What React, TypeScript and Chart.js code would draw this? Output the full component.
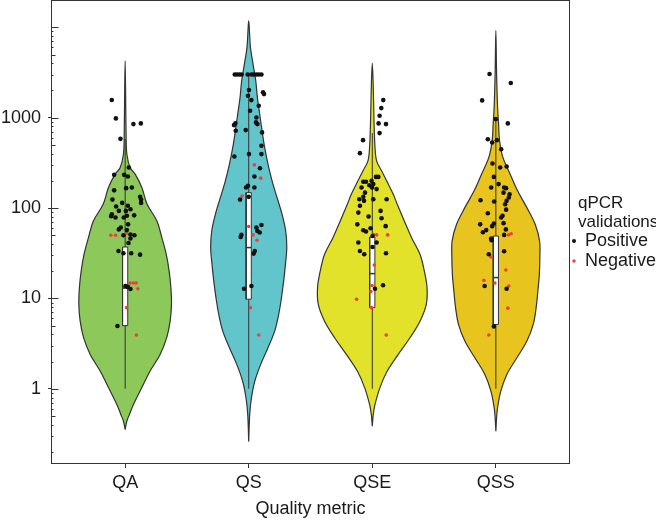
import React, { useEffect, useRef } from 'react';
import { Chart, registerables } from 'chart.js';

Chart.register(...registerables);

const categories = ['QA', 'QS', 'QSE', 'QSS'];
const yTickValues = [1, 10, 100, 1000];
const xTitle = 'Quality metric';
const legendTitleLines = ['qPCR', 'validations'];
const seriesLabels = ['Positive', 'Negative'];
const violinColors = ['#8CC85A', '#62C5CB', '#E2E22B', '#E8C51E'];

// violin outlines: [value, half-width (category units)], from bottom tip to top tip
const qaViolin = [
  [0.354, 0], [0.44, 0.014], [0.52, 0.035], [0.67, 0.067], [1.03, 0.135], [1.57, 0.202], [2.4, 0.283],
  [3.7, 0.337], [5.6, 0.364], [8.6, 0.375], [13.2, 0.37], [20, 0.356], [31, 0.332], [47, 0.297],
  [72, 0.257], [110, 0.178], [169, 0.135], [237, 0.081], [281, 0.04], [394, 0.014], [604, 0.008], [4266, 0],
];
const qsViolin = [
  [0.26, 0], [0.52, 0.008], [0.79, 0.022], [1.21, 0.049], [1.86, 0.097], [2.84, 0.156], [4.35, 0.21],
  [6.7, 0.243], [10.2, 0.265], [15.6, 0.283], [23.8, 0.297], [36.5, 0.308], [56, 0.299], [85, 0.27],
  [131, 0.229], [200, 0.189], [306, 0.156], [468, 0.129], [715, 0.108], [1094, 0.089], [1675, 0.07],
  [2560, 0.057], [3920, 0.035], [6000, 0.014], [11830, 0],
];
const qseViolin = [
  [0.385, 0], [0.52, 0.008], [0.67, 0.022], [1.03, 0.062], [1.57, 0.121], [2.4, 0.21], [3.67, 0.305],
  [5.6, 0.386], [8.6, 0.437], [13.2, 0.443], [20.1, 0.421], [30.8, 0.386], [47, 0.318], [72, 0.259],
  [110, 0.202], [142, 0.17], [200, 0.116], [258, 0.075], [333, 0.035], [468, 0.022], [923, 0.014],
  [2163, 0.008], [3990, 0],
];
const qssViolin = [
  [0.34, 0], [0.48, 0.006], [0.62, 0.014], [0.94, 0.04], [1.44, 0.089], [2.2, 0.17], [3.37, 0.251],
  [5.2, 0.303], [7.9, 0.326], [12.1, 0.34], [18.5, 0.352], [28.3, 0.356], [43, 0.354], [66, 0.318],
  [101, 0.251], [155, 0.176], [237, 0.116], [363, 0.057], [554, 0.03], [848, 0.022], [1298, 0.014],
  [3040, 0.006], [9170, 0],
];

// box plot statistics per category
const boxLow = [1, 1, 1, 1];
const boxQ1 = [5, 9.8, 7.9, 5.15];
const boxMedian = [13, 36.5, 18.8, 17];
const boxQ3 = [37, 148, 47.8, 49];
const boxHigh = [583, 3000, 675, 964];

// jittered observations: [value, horizontal jitter (category units)]
const qaPositive = [
  [1566, -0.108], [981, -0.075], [849, 0.067], [864, 0.127], [583, -0.038], [281, 0.03], [233, -0.089],
  [233, -0.008], [223, 0.022], [169, 0.054], [166, 0.008], [157, -0.089], [133, 0.121], [124, 0.129],
  [124, -0.103], [114, -0.024], [114, 0.129], [106, 0.022], [104, -0.073], [97, 0.043], [93, -0.051],
  [93, 0.006], [85, -0.108], [83, 0.073], [82, 0.014], [81, -0.113], [78.5, -0.078], [78.5, -0.011],
  [66, 0.024], [61, -0.035], [58, -0.051], [57, 0.014], [51, 0.043], [50, -0.014], [50, 0.075], [46, 0.043],
  [41, 0.027], [33.5, -0.054], [31.6, -0.014], [31.6, 0.049], [30.5, 0.121], [13.7, 0.002], [13.4, 0.022],
  [12.7, 0.043], [4.94, -0.062],
];
const qaNegative = [
  [50, -0.116], [50, -0.078], [52.6, 0.011], [14.8, 0.04], [14.8, 0.067], [14.8, 0.089], [12.8, 0.103],
  [7.9, 0.011], [3.93, 0.091],
];
const qsPositive = [
  [3000, -0.113], [3000, -0.095], [3000, -0.075], [3000, -0.057], [3000, -0.008], [3000, 0.022],
  [3000, 0.04], [3000, 0.062], [3000, 0.081], [3000, 0.103], [2020, 0.002], [1905, 0.116], [1824, 0.124],
  [1746, -0.006], [1565, 0.022], [1355, 0.081], [1191, 0.011], [1006, 0.062], [886, 0.059], [864, -0.108],
  [827, -0.119], [849, 0.07], [716, -0.105], [728, -0.024], [687, 0.108], [488, 0.103], [372, -0.116],
  [395, 0.002], [395, 0.103], [276, 0.091], [223, 0.046], [176, -0.006], [169, -0.022], [169, 0.046],
  [133, 0], [124, -0.07], [65, 0.103], [61, 0.062], [55.8, 0.07], [53.5, 0.089], [50.4, -0.059],
  [47.8, -0.065], [33.5, 0.049], [31.3, 0.04], [13.7, 0.022], [12.8, -0.038],
];
const qsNegative = [
  [300, 0.046], [214, 0.097], [136, -0.054], [62.4, 0], [50.4, 0.035], [44, 0.067], [7.9, 0.014], [3.93, 0.081],
];
const qsePositive = [
  [1565, 0.089], [1276, 0.073], [1049, 0.059], [864, 0.051], [849, 0.111], [675, 0.059], [564, -0.075],
  [405, -0.1], [221, 0.049], [221, 0.03], [195, -0.073], [195, -0.051], [200, -0.006], [179, -0.024],
  [184, 0.008], [169, -0.002], [169, -0.087], [162, 0.035], [148, -0.059], [125, -0.105], [125, 0.116],
  [133, -0.073], [125, 0.008], [106, -0.1], [120, -0.067], [89, -0.113], [93, 0.067], [77, 0.075],
  [80.5, -0.03], [66, -0.121], [63, 0.108], [59.7, -0.014], [56.8, -0.073], [55, -0.051], [49, 0.002],
  [41.5, 0.035], [41.5, -0.113], [37, 0.002], [33.5, -0.1], [30.8, -0.065], [31.6, 0.111], [14, 0.087],
  [12.8, 0.022],
];
const qseNegative = [
  [51, 0.008], [50.4, 0.035], [50.4, 0.124], [23.4, 0.016], [13.9, -0.002], [11.9, -0.011], [9.8, -0.127],
  [7.9, -0.006], [3.93, 0.113],
];
const qssPositive = [
  [3040, -0.051], [2415, 0.121], [1553, -0.111], [964, 0], [864, 0.097], [578, -0.065], [532, -0.03],
  [564, 0.008], [448, 0.043], [311, -0.027], [281, 0.035], [288, 0.087], [221, -0.016], [184, 0.022],
  [169, -0.038], [169, 0.067], [166, 0.083], [148, 0.062], [142, 0.111], [131, 0.105], [120, 0.087],
  [122, -0.124], [118, -0.014], [110, 0.075], [96, 0.083], [87.6, -0.065], [82, 0.054], [78.5, 0.043],
  [67.3, -0.016], [66, -0.127], [63, -0.03], [68, 0.062], [57, -0.078], [54, -0.105], [58, 0.081],
  [50.4, 0.067], [46, -0.038], [44, -0.035], [33.2, 0.067], [30.8, -0.057], [13.7, -0.091], [12.8, 0.087],
  [4.9, -0.016],
];
const qssNegative = [
  [50.4, 0.103], [52, 0.124], [28.7, -0.04], [20.6, 0.081], [15.9, -0.097], [14.8, -0.008], [13.7, 0.105],
  [7.8, 0.097], [3.93, -0.057],
];

const FONT = '"Liberation Sans", Arial, Helvetica, sans-serif';
const INK = '#333333';
const TEXT = '#1a1a1a';
const POS_COLOR = '#111111';
const NEG_COLOR = '#F03E3E';
const BOX_HALF = 0.021;

export default function App() {
  const ref = useRef<HTMLCanvasElement | null>(null);

  useEffect(() => {
    const canvas = ref.current;
    if (!canvas) return;

    const violins = [qaViolin, qsViolin, qseViolin, qssViolin];
    const positives = [qaPositive, qsPositive, qsePositive, qssPositive];
    const negatives = [qaNegative, qsNegative, qseNegative, qssNegative];

    const positiveData: any[] = [];
    const negativeData: any[] = [];
    positives.forEach((pts, i) => pts.forEach(([v, j]) => positiveData.push({ x: i + 1 + j, y: v })));
    negatives.forEach((pts, i) => pts.forEach(([v, j]) => negativeData.push({ x: i + 1 + j, y: v })));

    const datasets: any[] = [
      {
        label: seriesLabels[0], data: positiveData, showLine: false, pointRadius: 2.3,
        pointBackgroundColor: POS_COLOR, pointBorderWidth: 0, order: 0,
      },
      {
        label: seriesLabels[1], data: negativeData, showLine: false, pointRadius: 1.8,
        pointBackgroundColor: NEG_COLOR, pointBorderWidth: 0, order: 0,
      },
    ];

    categories.forEach((_, i) => {
      const c = i + 1;
      datasets.push({
        data: [{ x: c - BOX_HALF, y: boxMedian[i] }, { x: c + BOX_HALF, y: boxMedian[i] }],
        showLine: true, borderColor: INK, borderWidth: 1.5, pointRadius: 0, order: 1,
      });
      datasets.push({
        data: [
          { x: c - BOX_HALF, y: boxQ1[i] }, { x: c + BOX_HALF, y: boxQ1[i] },
          { x: c + BOX_HALF, y: boxQ3[i] }, { x: c - BOX_HALF, y: boxQ3[i] },
          { x: c - BOX_HALF, y: boxQ1[i] },
        ],
        showLine: true, fill: 'shape', backgroundColor: '#ffffff', borderColor: INK, borderWidth: 1,
        pointRadius: 0, tension: 0, order: 2,
      });
      datasets.push({
        data: [{ x: c, y: boxLow[i] }, { x: c, y: boxHigh[i] }],
        showLine: true, borderColor: INK, borderWidth: 1, pointRadius: 0, order: 3,
      });
      const v = violins[i];
      const right = v.map(([y, w]) => ({ x: c + w, y }));
      const left = v.slice().reverse().map(([y, w]) => ({ x: c - w, y }));
      datasets.push({
        data: [...right, ...left.slice(1)],
        showLine: true, fill: 'shape', backgroundColor: violinColors[i], borderColor: INK,
        borderWidth: 1.2, pointRadius: 0, tension: 0.35, order: 4,
      });
    });

    const decorations = {
      id: 'decorations',
      afterDraw(chart: any) {
        const { ctx, chartArea } = chart;
        const yScale = chart.scales.y;
        ctx.save();
        // panel frame
        ctx.strokeStyle = INK;
        ctx.lineWidth = 1;
        ctx.strokeRect(
          Math.round(chartArea.left) + 0.5, Math.round(chartArea.top) + 0.5,
          Math.round(chartArea.right - chartArea.left) - 1, Math.round(chartArea.bottom - chartArea.top) - 1,
        );
        // log ticks inside the panel
        ctx.beginPath();
        const lx = Math.round(chartArea.left);
        for (let e = -1; e <= 4; e++) {
          for (let m = 1; m <= 9; m++) {
            const val = m * Math.pow(10, e);
            if (val < yScale.min || val > yScale.max) continue;
            const py = Math.round(yScale.getPixelForValue(val)) + 0.5;
            const len = m === 1 ? 7.5 : m === 5 ? 4.5 : 2.5;
            ctx.moveTo(lx, py);
            ctx.lineTo(lx + len, py);
          }
        }
        ctx.stroke();
        // legend
        const lx0 = chartArea.right + 8;
        ctx.fillStyle = TEXT;
        ctx.font = `17px ${FONT}`;
        ctx.textBaseline = 'alphabetic';
        ctx.textAlign = 'left';
        ctx.fillText(legendTitleLines[0], lx0, 208);
        ctx.fillText(legendTitleLines[1], lx0, 227);
        ctx.font = `18px ${FONT}`;
        const items = [
          { label: seriesLabels[0], color: POS_COLOR, r: 2, y: 246 },
          { label: seriesLabels[1], color: NEG_COLOR, r: 1.7, y: 266 },
        ];
        items.forEach((it) => {
          ctx.beginPath();
          ctx.fillStyle = it.color;
          ctx.arc(lx0 - 4, it.y - 5, it.r, 0, Math.PI * 2);
          ctx.fill();
          ctx.fillStyle = TEXT;
          ctx.fillText(it.label, lx0 + 7, it.y);
        });
        ctx.restore();
      },
    };

    const noPad = (s: any) => {
      s.paddingTop = 0;
      s.paddingBottom = 0;
      s.paddingLeft = 0;
      s.paddingRight = 0;
    };

    const chart = new Chart(canvas, {
      type: 'scatter',
      data: { datasets },
      plugins: [decorations],
      options: {
        animation: false,
        responsive: false,
        events: [],
        layout: { autoPadding: false, padding: { left: 0, right: 86, top: 0, bottom: 0 } },
        plugins: { legend: { display: false }, tooltip: { enabled: false } },
        scales: {
          x: {
            type: 'linear', min: 0.4, max: 4.6,
            afterBuildTicks: (s: any) => { s.ticks = categories.map((_, i) => ({ value: i + 1 })); },
            afterFit: (s: any) => { s.height = 57; noPad(s); },
            ticks: {
              callback: (v: any) => categories[Math.round(Number(v)) - 1] ?? '',
              font: { family: FONT, size: 18 }, color: TEXT, padding: 4, autoSkip: false, maxRotation: 0,
            },
            grid: { drawOnChartArea: false, drawTicks: true, tickLength: 4, tickColor: INK },
            border: { display: false },
            title: {
              display: true, text: xTitle, font: { family: FONT, size: 18 }, color: TEXT,
              padding: { top: 0, bottom: 1 },
            },
          },
          y: {
            type: 'logarithmic', min: 0.147, max: 20050,
            afterBuildTicks: (s: any) => { s.ticks = yTickValues.map((v) => ({ value: v })); },
            afterFit: (s: any) => { s.width = 51; noPad(s); },
            ticks: {
              callback: (v: any) => String(v),
              font: { family: FONT, size: 18 }, color: TEXT, padding: 7, autoSkip: false,
            },
            grid: { drawOnChartArea: false, drawTicks: true, tickLength: 3, tickColor: INK },
            border: { display: false },
          },
        },
      } as any,
    });

    return () => chart.destroy();
  }, []);

  return (
    <canvas
      ref={ref}
      width={656}
      height={521}
      style={{ position: 'absolute', left: 0, top: 0, width: 656, height: 521 }}
    />
  );
}
